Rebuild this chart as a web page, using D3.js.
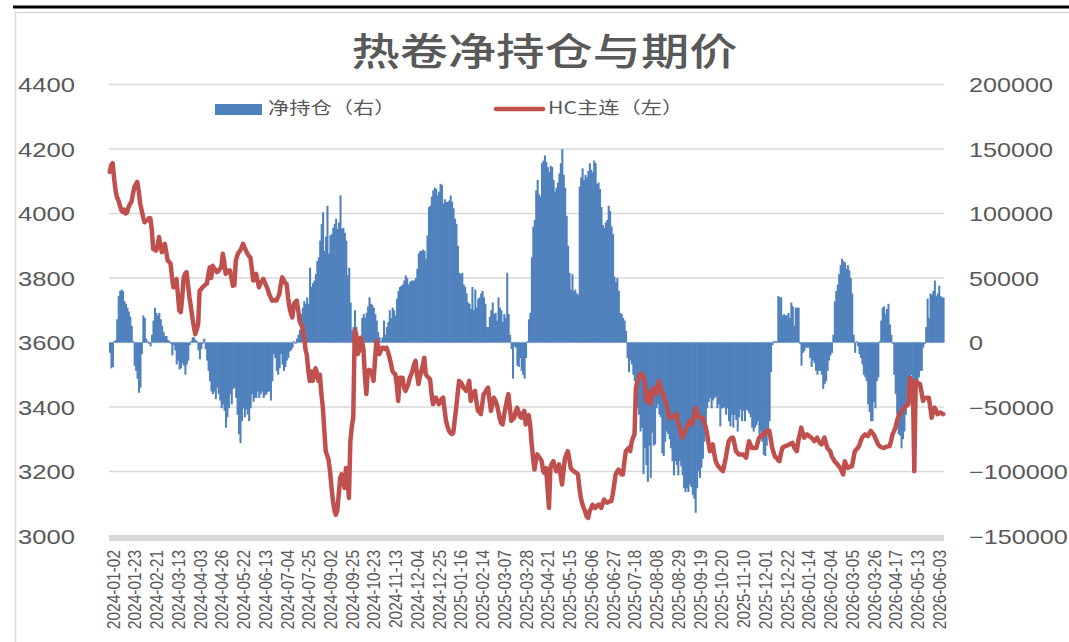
<!DOCTYPE html>
<html><head><meta charset="utf-8">
<script src="https://cdn.jsdelivr.net/npm/d3@7/dist/d3.min.js"></script>
<style>
html,body{margin:0;padding:0;background:#fff;}
svg{display:block;}
</style></head>
<body>
<svg id="chart" width="1069" height="642"></svg>
<script>
// ---- data ----
const tickLabels = ["2024-01-02","2024-01-23","2024-02-21","2024-03-13","2024-04-03","2024-04-26","2024-05-22","2024-06-13","2024-07-04","2024-07-25","2024-09-02","2024-09-25","2024-10-23","2024-11-13","2024-12-04","2024-12-25","2025-01-16","2025-02-14","2025-03-07","2025-03-28","2025-04-21","2025-05-15","2025-06-06","2025-06-27","2025-07-18","2025-08-08","2025-08-29","2025-09-19","2025-10-20","2025-11-10","2025-12-01","2025-12-22","2026-01-14","2026-02-04","2026-03-05","2026-03-26","2026-04-17","2026-05-13","2026-06-03"];
const labelStep = 15;
const leftTicks = [3000,3200,3400,3600,3800,4000,4200,4400];
const rightTicks = [-150000,-100000,-50000,0,50000,100000,150000,200000];
const seriesNames = ["净持仓（右）","HC主连（左）"];
const title = "热卷净持仓与期价";

const netPos = [
-8000,-20000,-19000,1000,2000,18000,36000,40000,41000,40000,
32000,30000,27000,24000,20000,13000,1000,-18000,-22000,-28000,
-39000,-35000,-9000,21000,19000,3000,1000,-1000,-3000,6000,
17000,27000,23000,21000,23000,18000,13000,8000,5000,5000,
2000,1000,-1000,-10000,-2000,-6000,-17000,-14000,-21000,-20000,
-16000,-18000,-25000,-17000,-14000,-2000,1000,4000,4000,2000,
1000,-6000,-13000,-5000,-1000,3000,-5000,-14000,-22000,-30000,
-38000,-40000,-38000,-44000,-35000,-40000,-45000,-51000,-48000,-53000,
-66000,-58000,-51000,-40000,-48000,-36000,-35000,-43000,-56000,-71000,
-78000,-61000,-51000,-58000,-52000,-56000,-61000,-51000,-40000,-46000,
-43000,-43000,-38000,-43000,-40000,-38000,-43000,-41000,-40000,-38000,
-38000,-45000,-30000,-9000,-12000,-22000,-25000,-20000,-9000,-17000,
-22000,-19000,-14000,-12000,-7000,-6000,-4000,1000,-1000,3000,
6000,10000,22000,27000,32000,30000,35000,30000,58000,43000,
46000,48000,53000,63000,66000,79000,92000,101000,71000,82000,
106000,69000,83000,84000,89000,92000,96000,88000,93000,114000,
88000,89000,85000,79000,52000,58000,31000,9000,12000,25000,
12000,3000,4000,4000,19000,22000,19000,23000,28000,35000,
30000,29000,27000,22000,17000,8000,4000,1000,4000,17000,
6000,12000,16000,25000,19000,27000,25000,21000,34000,40000,
43000,44000,45000,48000,52000,50000,45000,47000,48000,48000,
48000,50000,57000,69000,71000,71000,72000,71000,65000,83000,
105000,106000,113000,118000,120000,119000,114000,117000,123000,122000,
108000,111000,109000,109000,110000,114000,109000,104000,96000,92000,
75000,54000,53000,54000,45000,43000,38000,31000,30000,26000,
43000,25000,41000,27000,34000,35000,38000,40000,35000,30000,
12000,12000,20000,25000,31000,22000,23000,17000,35000,27000,
25000,16000,22000,19000,54000,22000,6000,-5000,-28000,-3000,
-4000,-18000,-19000,-12000,-22000,-25000,-28000,-12000,1000,18000,
23000,66000,90000,95000,118000,126000,115000,113000,139000,141000,
145000,140000,136000,132000,137000,136000,126000,117000,120000,124000,
131000,139000,150000,130000,120000,98000,75000,54000,41000,53000,
40000,41000,38000,37000,121000,128000,135000,126000,130000,128000,
133000,139000,134000,132000,141000,139000,123000,124000,119000,105000,
91000,89000,93000,95000,106000,102000,90000,84000,51000,47000,
50000,40000,23000,22000,19000,17000,9000,-12000,-23000,-14000,
-17000,-25000,-30000,-40000,-51000,-56000,-69000,-66000,-102000,-82000,
-95000,-108000,-80000,-105000,-70000,-80000,-79000,-51000,-48000,-56000,
-58000,-86000,-88000,-77000,-69000,-71000,-75000,-82000,-92000,-103000,
-92000,-95000,-103000,-92000,-96000,-103000,-113000,-116000,-113000,-116000,
-110000,-112000,-118000,-121000,-132000,-113000,-100000,-105000,-97000,-90000,
-77000,-71000,-51000,-46000,-43000,-51000,-45000,-43000,-42000,-51000,
-48000,-65000,-51000,-51000,-50000,-56000,-51000,-61000,-65000,-56000,
-66000,-56000,-60000,-69000,-58000,-52000,-61000,-53000,-61000,-52000,
-53000,-55000,-58000,-66000,-69000,-66000,-64000,-61000,-71000,-69000,
-77000,-87000,-88000,-80000,-71000,-61000,-23000,-2000,1000,1000,
1000,36000,35000,35000,21000,22000,21000,21000,23000,19000,
31000,28000,13000,27000,27000,27000,-1000,-18000,-8000,-6500,
-4000,-4000,-4000,-12000,-19000,-14000,-16000,-22000,-25000,-22000,
-22000,-25000,-36000,-32000,-30000,-22000,-14000,-10000,-8000,6000,
32000,40000,45000,53000,60000,65000,63000,62000,57000,60000,
56000,50000,38000,6000,-8000,1000,-3000,-9000,-12000,-17000,
-25000,-27000,-30000,-48000,-54000,-61000,-61000,-46000,-51000,-30000,
-27000,1000,17000,27000,28000,22000,26000,30000,14000,6000,
-1000,-25000,-40000,-56000,-71000,-72000,-82000,-75000,-69000,-56000,
-40000,-40000,-30000,-25000,-30000,-43000,-40000,-35000,-27000,-22000,
-22000,-4000,-1000,12000,34000,19000,38000,37000,40000,48000,
36000,38000,44000,36000,35000,35000
];

const hcPrice = [
4129,4150,4156,4110,4072,4050,4041,4025,4010,4005,
4012,4000,4003,4020,4030,4036,4060,4082,4090,4098,
4070,4030,4010,3990,3973,3978,3979,3985,3985,3950,
3890,3888,3885,3900,3927,3900,3880,3895,3906,3880,
3854,3850,3844,3800,3771,3785,3797,3750,3699,3694,
3740,3800,3813,3818,3780,3740,3710,3678,3650,3626,
3640,3657,3761,3765,3771,3775,3780,3782,3810,3833,
3800,3838,3830,3825,3818,3822,3828,3833,3875,3850,
3813,3818,3823,3823,3800,3776,3778,3854,3870,3880,
3885,3895,3906,3895,3885,3875,3868,3864,3830,3792,
3800,3813,3790,3771,3785,3790,3797,3785,3776,3765,
3750,3740,3730,3732,3730,3730,3740,3750,3780,3802,
3795,3785,3782,3740,3709,3690,3678,3719,3725,3730,
3700,3667,3655,3647,3620,3580,3560,3512,3481,3510,
3481,3500,3520,3505,3481,3500,3440,3400,3330,3263,
3250,3235,3200,3150,3108,3080,3066,3080,3130,3180,
3191,3170,3149,3211,3180,3118,3295,3340,3367,3637,
3626,3564,3574,3615,3605,3580,3500,3440,3512,3515,
3512,3500,3481,3545,3605,3590,3564,3575,3584,3584,
3580,3584,3570,3553,3535,3512,3505,3502,3470,3419,
3491,3491,3491,3460,3450,3460,3471,3490,3502,3515,
3533,3543,3500,3471,3495,3512,3530,3553,3502,3495,
3491,3485,3440,3409,3419,3429,3420,3409,3415,3425,
3429,3390,3357,3340,3326,3320,3316,3320,3360,3398,
3440,3481,3476,3471,3460,3455,3450,3465,3481,3419,
3435,3445,3450,3415,3388,3385,3378,3410,3440,3445,
3455,3460,3420,3388,3410,3429,3420,3409,3388,3365,
3350,3346,3375,3398,3420,3440,3400,3357,3362,3367,
3385,3398,3385,3370,3367,3380,3388,3346,3360,3375,
3346,3290,3243,3206,3235,3253,3245,3240,3232,3201,
3195,3211,3150,3087,3211,3225,3232,3215,3201,3210,
3222,3190,3160,3200,3240,3253,3263,3240,3211,3205,
3201,3198,3195,3191,3150,3118,3100,3087,3075,3060,
3056,3077,3085,3097,3092,3087,3092,3097,3097,3087,
3100,3113,3108,3103,3105,3108,3108,3129,3160,3191,
3200,3206,3200,3191,3191,3230,3263,3268,3273,3263,
3290,3305,3315,3460,3481,3490,3502,3502,3495,3481,
3419,3450,3430,3409,3435,3460,3450,3440,3460,3481,
3460,3445,3440,3420,3409,3390,3367,3367,3367,3370,
3375,3378,3355,3336,3320,3305,3315,3325,3336,3347,
3357,3352,3346,3372,3398,3385,3370,3367,3367,3367,
3352,3340,3320,3290,3263,3275,3284,3255,3232,3222,
3215,3211,3205,3201,3222,3243,3270,3294,3300,3305,
3305,3285,3263,3258,3253,3253,3253,3253,3248,3243,
3270,3294,3283,3273,3273,3273,3273,3290,3305,3310,
3315,3310,3318,3326,3326,3326,3300,3273,3258,3245,
3243,3235,3232,3255,3273,3276,3279,3280,3282,3284,
3287,3289,3276,3268,3263,3295,3315,3336,3320,3305,
3310,3315,3312,3308,3305,3300,3294,3300,3305,3295,
3288,3284,3295,3305,3290,3273,3268,3263,3248,3240,
3232,3227,3222,3216,3211,3200,3191,3232,3222,3211,
3213,3215,3216,3240,3263,3268,3273,3280,3294,3305,
3310,3315,3312,3310,3318,3326,3320,3315,3305,3295,
3285,3279,3276,3274,3273,3275,3277,3278,3279,3295,
3315,3325,3336,3355,3370,3378,3385,3392,3398,3402,
3405,3409,3491,3481,3481,3201,3481,3476,3473,3471,
3445,3419,3425,3429,3429,3429,3400,3367,3385,3398,
3390,3378,3380,3383,3380,3378
];

// ---- drawing ----
const svg = d3.select("#chart");
const W = 1069, H = 642;
const plot = {left:109, right:944, top:84.5, bottom:536};
const textColor = "#595959";
const numFont = "'Liberation Sans', Arial, sans-serif";
const cjkFont = "'Noto Sans CJK SC', 'Noto Sans', sans-serif";
const stretch = 1.28;

const N = netPos.length;
const idx = d3.range(N);
const x = d3.scaleBand().domain(idx).range([plot.left, plot.right]).padding(0);
const yL = d3.scaleLinear().domain([3000, 4400]).range([plot.bottom, plot.top]);
const yR = d3.scaleLinear().domain([-150000, 200000]).range([plot.bottom, plot.top]);

// frame
svg.append("rect").attr("x",15.5).attr("y",12.5).attr("width",1100).attr("height",700)
  .attr("fill","none").attr("stroke","#d9d9d9").attr("stroke-width",1.5);
svg.append("line").attr("x1",13).attr("x2",W).attr("y1",7).attr("y2",7)
  .attr("stroke","#000").attr("stroke-width",3);

// gridlines
svg.append("g").selectAll("line").data(leftTicks.slice(1)).join("line")
  .attr("x1",plot.left).attr("x2",plot.right)
  .attr("y1",d=>yL(d)).attr("y2",d=>yL(d))
  .attr("stroke","#d9d9d9").attr("stroke-width",1.5);

// bars
svg.append("g").selectAll("rect").data(netPos).join("rect")
  .attr("x",(d,i)=>x(i))
  .attr("width",x.bandwidth()+0.6)
  .attr("y",d=>Math.min(yR(d),yR(0)))
  .attr("height",d=>Math.abs(yR(d)-yR(0)))
  .attr("fill","#4F81BD");

// category axis bar
svg.append("rect").attr("x",plot.left).attr("width",plot.right-plot.left)
  .attr("y",plot.bottom-1).attr("height",6).attr("fill","#d9d9d9");

// price line
const line = d3.line().x((d,i)=>x(i)+x.bandwidth()/2).y(d=>yL(d)).curve(d3.curveLinear);
svg.append("path").datum(hcPrice).attr("d",line)
  .attr("fill","none").attr("stroke","#C0504D").attr("stroke-width",4.5)
  .attr("stroke-linejoin","round").attr("stroke-linecap","round");

// left axis
const gL = svg.append("g").attr("transform",`translate(75,0)`)
  .call(d3.axisLeft(yL).tickValues(leftTicks).tickSize(0).tickFormat(d3.format("d")));
gL.select(".domain").remove();
gL.selectAll("text").attr("x",0).attr("dy","0.35em").attr("text-anchor","end")
  .attr("transform",`scale(${stretch},1)`)
  .style("font-family",numFont).style("font-size","20px").attr("fill",textColor);

// right axis
const gR = svg.append("g").attr("transform",`translate(969,0)`)
  .call(d3.axisRight(yR).tickValues(rightTicks).tickSize(0).tickFormat(d3.format("d")));
gR.select(".domain").remove();
gR.selectAll("text").attr("x",0).attr("dy","0.35em").attr("text-anchor","start")
  .attr("transform",`scale(1.26,1)`)
  .style("font-family",numFont).style("font-size","20px").attr("fill",textColor);

// bottom axis
const tickIdx = tickLabels.map((t,k)=>k*labelStep);
const gB = svg.append("g").attr("transform",`translate(0,${plot.bottom+5})`)
  .call(d3.axisBottom(x).tickValues(tickIdx).tickSize(0).tickFormat((d)=>tickLabels[d/labelStep]));
gB.select(".domain").remove();
gB.selectAll("text").attr("x",0).attr("y",0).attr("dy","0.35em").attr("text-anchor","end")
  .attr("transform","translate(3.2,9) scale(1.22,1) rotate(-90)")
  .style("font-family",numFont).style("font-size","15.5px").attr("fill",textColor);

// title
svg.append("text").attr("transform",`translate(544.5,64.5) scale(1.27,1)`)
  .attr("text-anchor","middle").style("font-family",cjkFont).style("font-size","38px")
  .style("font-weight","500").attr("fill",textColor).text(title);

// legend
svg.append("rect").attr("x",215).attr("y",104).attr("width",47).attr("height",11).attr("fill","#4F81BD");
svg.append("text").attr("transform","translate(268,114) scale(1.25,1)")
  .style("font-family",cjkFont).style("font-size","17px").attr("fill",textColor).text(seriesNames[0]);
svg.append("line").attr("x1",496).attr("x2",543).attr("y1",109).attr("y2",109)
  .attr("stroke","#C0504D").attr("stroke-width",4.5).attr("stroke-linecap","round");
svg.append("text").attr("transform","translate(548,114) scale(1.25,1)")
  .style("font-family",cjkFont).style("font-size","17px").attr("fill",textColor).text(seriesNames[1]);
</script>
</body></html>
